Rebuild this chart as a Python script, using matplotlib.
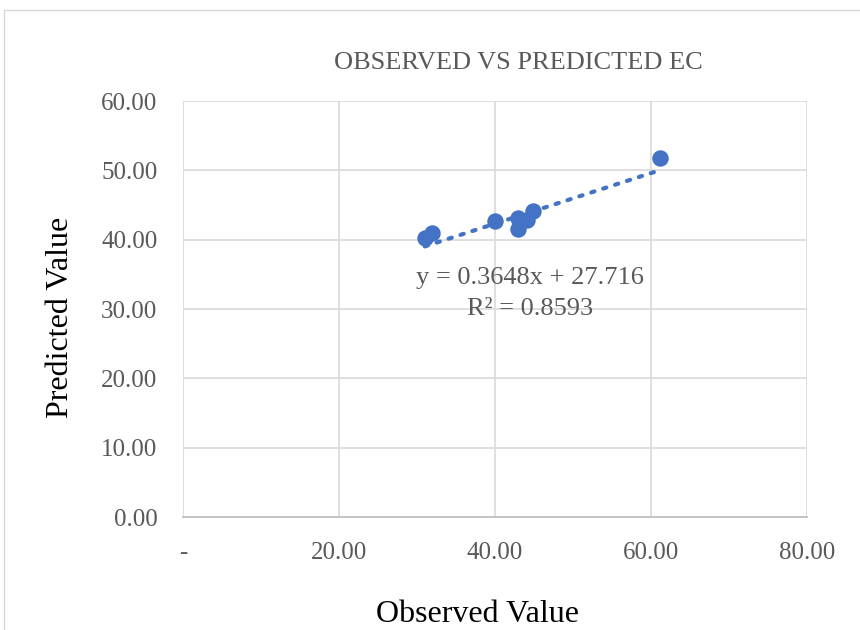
import matplotlib
matplotlib.use("Agg")
import matplotlib.pyplot as plt
from matplotlib.patches import Rectangle
import numpy as np

# Data
observed = [31.0, 31.9, 40.0, 43.0, 43.0, 44.1, 44.9, 61.1]
predicted = [40.2, 41.0, 42.75, 43.1, 41.5, 42.9, 44.2, 51.8]
slope = 0.3648
intercept = 27.716
r_squared = 0.8593

x_ticks = [0, 20, 40, 60, 80]
x_tick_labels = ["-", "20.00", "40.00", "60.00", "80.00"]
y_ticks = [0, 10, 20, 30, 40, 50, 60]
y_tick_labels = ["0.00", "10.00", "20.00", "30.00", "40.00", "50.00", "60.00"]

plt.rcParams['font.family'] = ['Liberation Serif', 'DejaVu Serif']

fig = plt.figure(figsize=(8.6, 6.3), dpi=100)
fig.patches.append(Rectangle((4 / 860, -0.05), 1.2, (1 - 10 / 630) + 0.05,
                             transform=fig.transFigure, fill=False,
                             edgecolor="#D9D9D9", linewidth=1.0))

ax = fig.add_axes([183 / 860, 1 - 517 / 630, (807 - 183) / 860, (517 - 101) / 630])
ax.set_xlim(0, 80)
ax.set_ylim(0, 60)

ax.set_xticks(x_ticks)
ax.set_xticklabels(x_tick_labels)
ax.set_yticks(y_ticks)
ax.set_yticklabels(y_tick_labels)
ax.grid(True, color="#D9D9D9", linewidth=1.2)
ax.set_axisbelow(True)
for s in ["top", "right", "left"]:
    ax.spines[s].set_visible(False)
ax.spines["bottom"].set_color("#BFBFBF")
ax.spines["bottom"].set_linewidth(1.3)
ax.tick_params(axis="both", length=0, labelsize=18, labelcolor="#595959")
ax.tick_params(axis="x", pad=18)
ax.tick_params(axis="y", pad=18.5)
# Excel-style dash for zero sits slightly left of the axis origin
ax.get_xticklabels()[0].set_x(-0.6)

# Trendline
xs = np.array([min(observed), max(observed)])
ax.plot(xs, slope * xs + intercept, linestyle=(0, (0.8, 2.2)), color="#4472C4",
        linewidth=3, dash_capstyle="round", zorder=2)

ax.scatter(observed, predicted, s=140, color="#4472C4", zorder=3, linewidths=0)

ax.text(530 / 860, 1 - 278 / 630, f"y = {slope}x + {intercept}",
        transform=fig.transFigure, ha="center", va="center", fontsize=19, color="#595959")
ax.text(530 / 860, 1 - 309 / 630, f"R² = {r_squared}",
        transform=fig.transFigure, ha="center", va="center", fontsize=19, color="#595959")

fig.text(518 / 860, 1 - 63 / 630, "OBSERVED VS PREDICTED EC", ha="center", va="center",
         fontsize=19, color="#595959")
fig.text(477 / 860, 1 - 614 / 630, "Observed Value", ha="center", va="center",
         fontsize=23, color="black")
fig.text(61 / 860, 1 - 317 / 630, "Predicted Value", ha="center", va="center",
         fontsize=23, color="black", rotation=90)

fig.savefig("out.png", dpi=100)
